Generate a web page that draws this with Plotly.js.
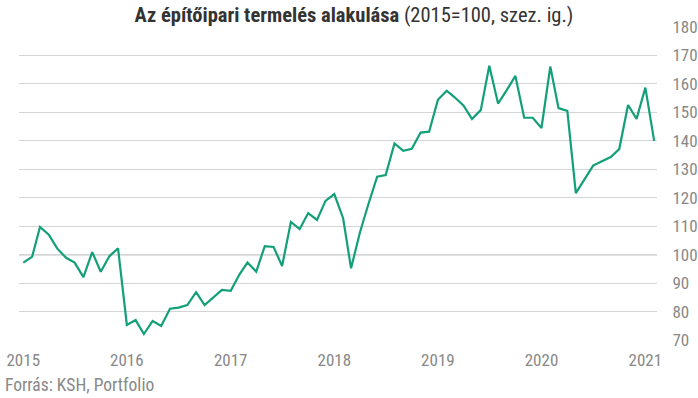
<!DOCTYPE html>
<html>
<head>
<meta charset="utf-8">
<script src="https://cdn.plot.ly/plotly-3.0.1.min.js"></script>
<style>html,body{margin:0;padding:0;background:#fff;}#chart{width:698px;height:398px;}</style>
</head>
<body>
<div id="chart"></div>
<script>
// Monthly index, Jan 2015 – Feb 2021 (2015=100, seasonally adjusted)
const startYear = 2015;
const values = [
  97.2, 99.2, 109.7, 107.0, 102.1, 98.9, 97.2, 92.1, 100.9, 94.0, 99.5, 102.2,
  75.3, 77.0, 72.1, 76.7, 74.9, 81.0, 81.4, 82.3, 86.8, 82.3, 85.0, 87.6,
  87.3, 93.1, 97.2, 94.0, 103.0, 102.7, 96.0, 111.5, 109.0, 114.6, 112.2, 118.9,
  121.3, 112.8, 95.2, 107.7, 117.7, 127.4, 128.0, 139.1, 136.5, 137.2, 142.9, 143.2,
  154.4, 157.6, 155.3, 152.4, 147.7, 150.8, 166.4, 153.1, 157.9, 162.8, 148.1, 148.1,
  144.5, 166.1, 151.5, 150.5, 121.6, 126.5, 131.3, 132.8, 134.3, 137.1, 152.6, 147.7,
  158.7, 140.0
];
const dates = values.map((v, i) => {
  const y = startYear + Math.floor(i / 12);
  const m = (i % 12) + 1;
  return y + '-' + String(m).padStart(2, '0') + '-01';
});
const yTicks = [70, 80, 90, 100, 110, 120, 130, 140, 150, 160, 170, 180];
const xTickVals = ['2015-01-01','2016-01-01','2017-01-01','2018-01-01','2019-01-01','2020-01-01','2021-01-01'];
const xTickText = ['2015','2016','2017','2018','2019','2020','2021'];

const FONT = '"Roboto Condensed", Roboto, sans-serif';

const trace = {
  x: dates, y: values, type: 'scatter', mode: 'lines',
  line: {color: '#13a079', width: 2.2},
  hoverinfo: 'x+y'
};

const layout = {
  width: 698, height: 398,
  margin: {l: 19, r: 41, t: 27, b: 58},
  paper_bgcolor: '#fff', plot_bgcolor: '#fff',
  font: {family: FONT, color: '#888', size: 17},
  showlegend: false,
  title: {
    text: '<b>Az építőipari termelés alakulása</b> (2015=100, szez. ig.)',
    font: {family: FONT, size: 20.5, color: '#333'},
    x: 354/698, xanchor: 'center', xref: 'container',
    y: 1 - 15/398, yanchor: 'middle', yref: 'container'
  },
  xaxis: {
    type: 'date',
    range: ['2014-12-17', '2021-02-11'],
    tickvals: xTickVals, ticktext: xTickText,
    showgrid: false, zeroline: false, showline: false,
    ticks: 'outside', ticklen: 5, tickcolor: 'rgba(0,0,0,0)',
    tickfont: {family: FONT, size: 17, color: '#888'}
  },
  yaxis: {
    side: 'right',
    range: [70, 180],
    tickvals: yTicks,
    showgrid: true, gridcolor: '#d4d4d4', gridwidth: 1,
    zeroline: false, showline: false,
    ticks: 'outside', ticklen: 11, tickcolor: 'rgba(0,0,0,0)',
    tickfont: {family: FONT, size: 17, color: '#888'}
  },
  shapes: [{
    type: 'line', xref: 'paper', x0: 0, x1: 1, yref: 'y', y0: 100, y1: 100,
    line: {color: '#8a8a8a', width: 1.2}, layer: 'below'
  }],
  annotations: [{
    text: 'Forrás: KSH, Portfolio',
    xref: 'paper', x: -16/638, xanchor: 'left',
    yref: 'paper', y: -45/313, yanchor: 'middle',
    showarrow: false,
    font: {family: FONT, size: 17.5, color: '#888'}
  }]
};

Plotly.newPlot('chart', [trace], layout, {displayModeBar: false, staticPlot: true});
</script>
</body>
</html>
